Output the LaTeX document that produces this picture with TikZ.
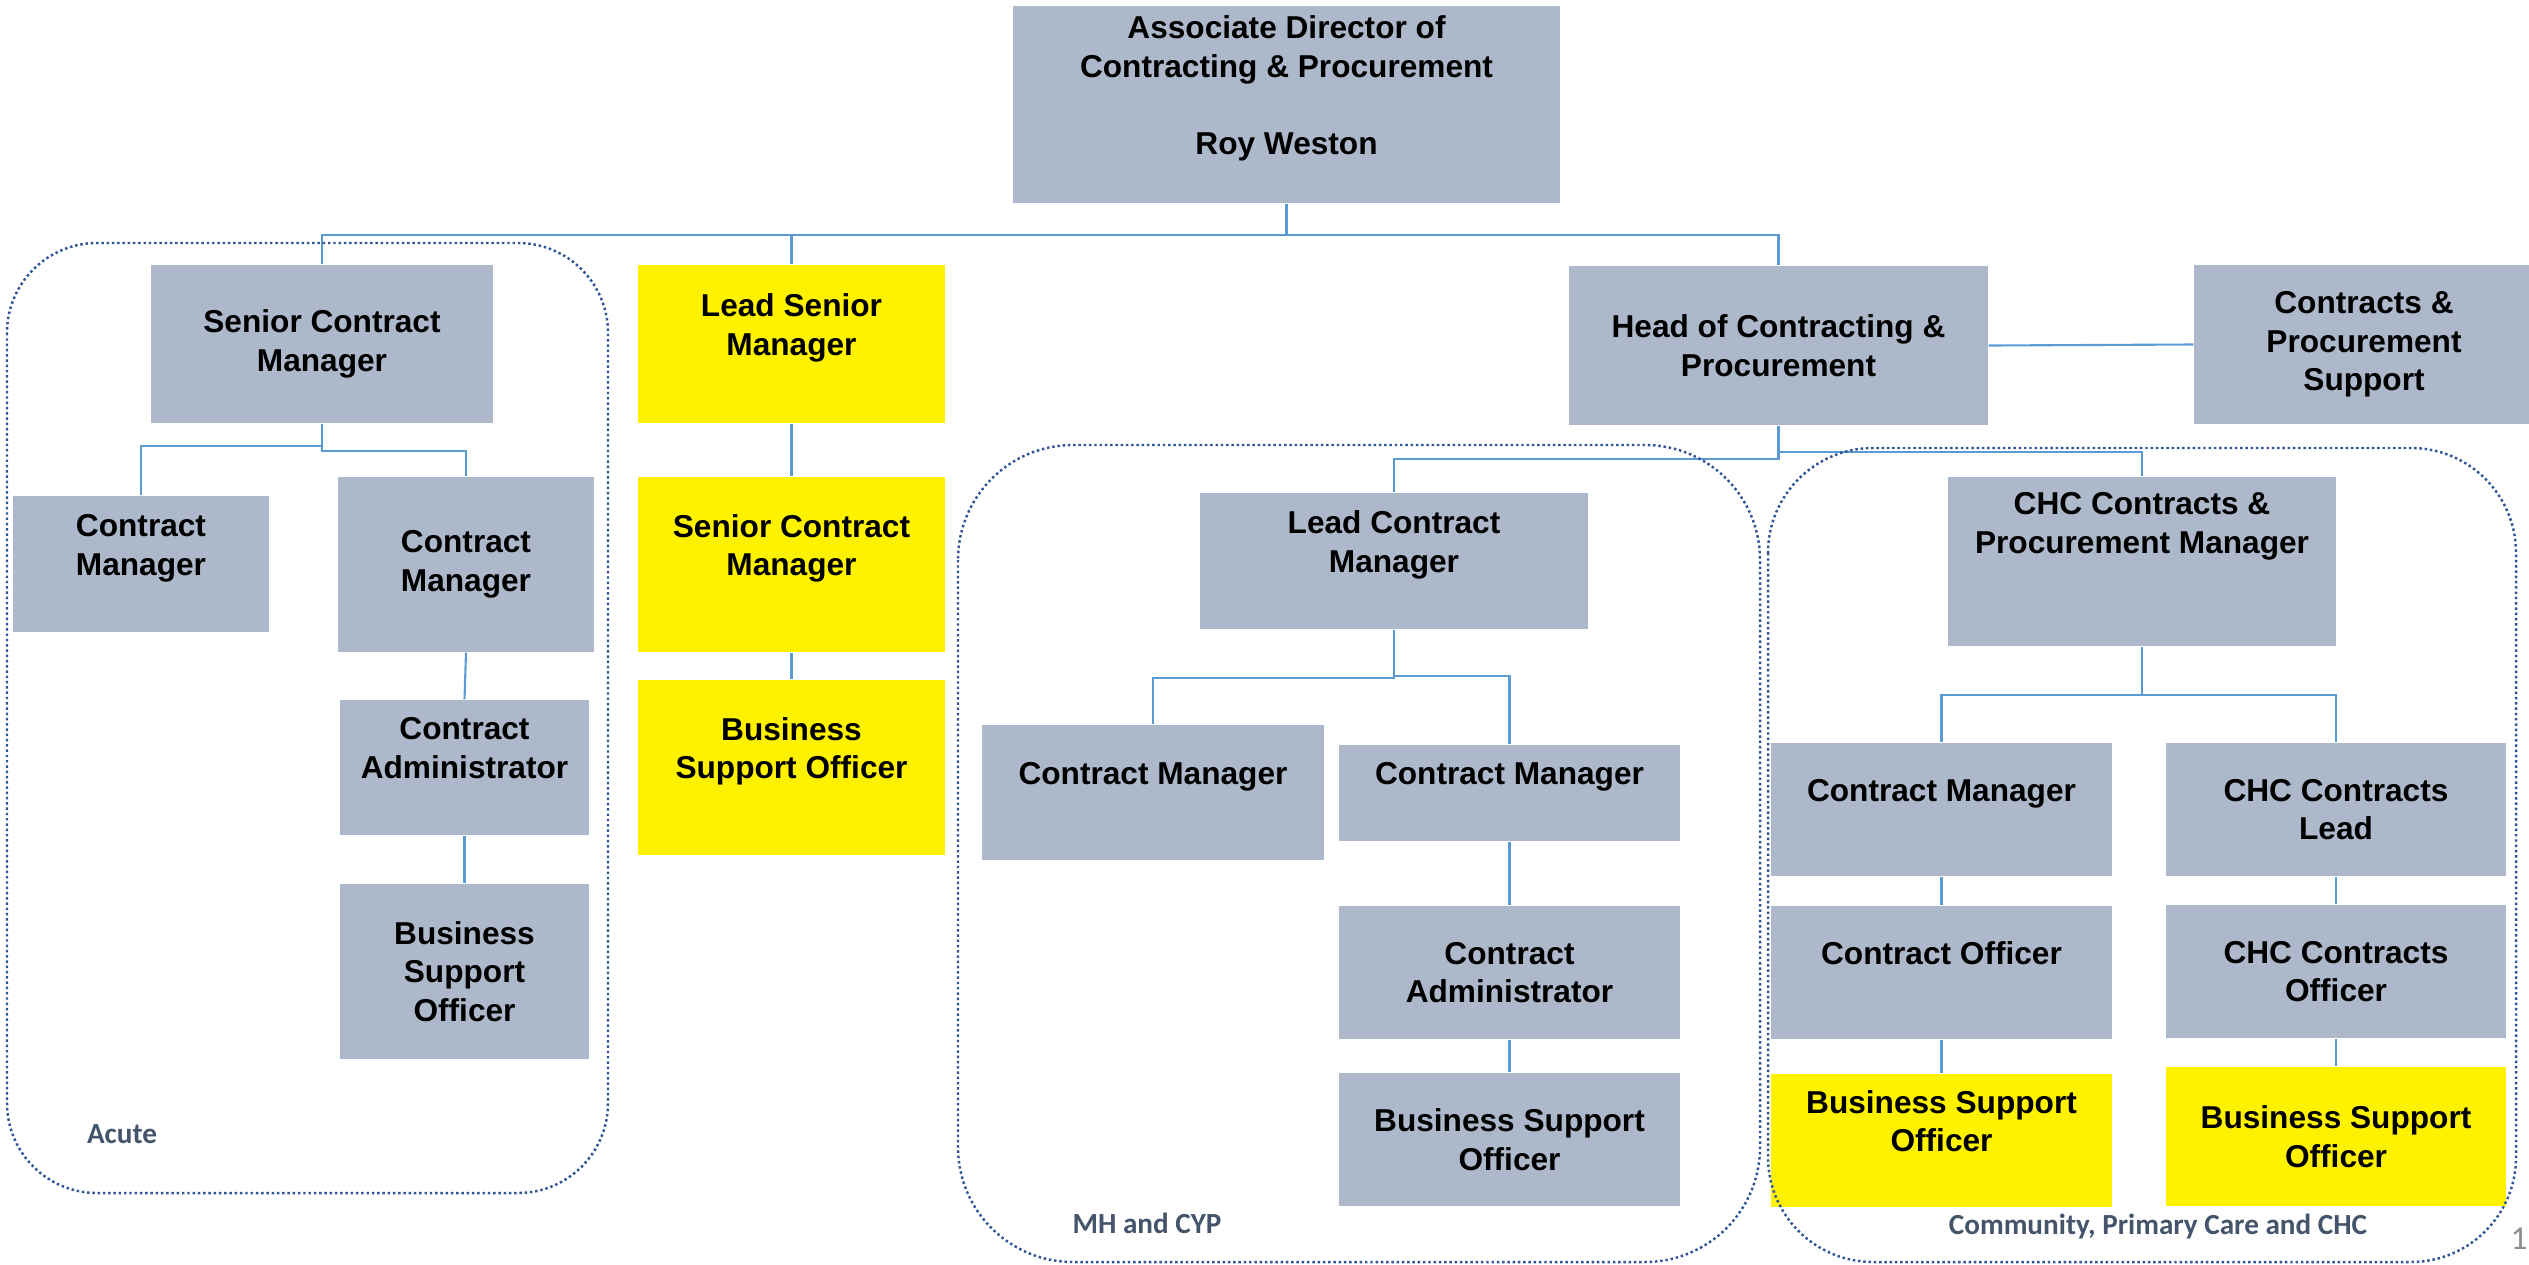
\documentclass[tikz,border=0pt]{standalone}
\usepackage{fontspec}
\setmainfont{Liberation Sans}
\newfontfamily\calibfont{Carlito}
\usepackage{tikz}
\usepackage{xcolor}

\definecolor{boxgrey}{HTML}{ADB9CA}
\definecolor{lineblue}{HTML}{5B9BD5}
\definecolor{dotblue}{HTML}{2F5597}
\definecolor{teamgrey}{HTML}{44546A}
\definecolor{pagegrey}{HTML}{8C8C8C}

\tikzset{
  role/.style={fill=boxgrey, align=center, inner sep=0pt, font=\fontsize{9}{11}\selectfont\bfseries},
  hilite/.style={role, fill=yellow},
  sz/.style 2 args={minimum width=#1cm, minimum height=#2cm},
  link/.style={draw=lineblue, line width=0.6pt},
  team/.style={draw=dotblue, line width=0.7pt, dash pattern=on 0.7pt off 0.8pt},
  teamname/.style={text=teamgrey, inner sep=0pt, font=\calibfont\fontsize{8.3}{10}\selectfont\bfseries},
}

\begin{document}
\begin{tikzpicture}
            \useasboundingbox (0,0) rectangle (25.29,-12.64);
            \clip (0,0) rectangle (25.29,-12.64);

            \node[role, sz={5.47}{1.97}] (AssocDirector) at (12.865,-1.045) {Associate Director of\\Contracting \& Procurement\\~\\Roy Weston\\~};
            \node[role, sz={3.42}{1.58}] (SeniorCM) at (3.22,-3.44) {Senior Contract\\Manager};
            \node[hilite, sz={3.07}{1.58}] (LeadSeniorMgr) at (7.915,-3.44) {Lead Senior\\Manager\\~};
            \node[role, sz={4.19}{1.59}] (HeadCP) at (17.785,-3.455) {Head of Contracting \&\\Procurement};
            \node[role, sz={3.40}{1.59}] (CPSupport) at (23.64,-3.445) {Contracts \&\\Procurement\\Support};

            % Acute
            \node[role, sz={2.56}{1.36}] (AcuteCM) at (1.41,-5.64) {Contract\\Manager\\~};
            \node[role, sz={2.56}{1.75}] (AcuteCMTwo) at (4.66,-5.645) {Contract\\Manager};
            \node[role, sz={2.49}{1.35}] (AcuteAdmin) at (4.645,-7.675) {Contract\\Administrator\\~};
            \node[role, sz={2.49}{1.75}] (AcuteBSO) at (4.645,-9.715) {Business\\Support\\Officer};

            \node[hilite, sz={3.07}{1.75}] (SeniorCMY) at (7.915,-5.645) {Senior Contract\\Manager\\~};
            \node[hilite, sz={3.07}{1.75}] (BSOY) at (7.915,-7.675) {Business\\Support Officer\\~};

            % MH and CYP
            \node[role, sz={3.88}{1.36}] (LeadCM) at (13.94,-5.61) {Lead Contract\\Manager\\~};
            \node[role, sz={3.42}{1.35}] (MhCM) at (11.53,-7.925) {Contract Manager\\~};
            \node[role, sz={3.41}{0.96}] (MhCMTwo) at (15.095,-7.93) {Contract Manager\\~};
            \node[role, sz={3.41}{1.33}] (MhAdmin) at (15.095,-9.725) {Contract\\Administrator};
            \node[role, sz={3.41}{1.33}] (MhBSO) at (15.095,-11.395) {Business Support\\Officer};

            % Community, Primary Care and CHC
            \node[role, sz={3.88}{1.69}] (CHCMgr) at (21.42,-5.615) {CHC Contracts \&\\Procurement Manager\\~\\~};
            \node[role, sz={3.41}{1.33}] (ComCM) at (19.415,-8.095) {Contract Manager\\~};
            \node[role, sz={3.40}{1.33}] (CHCLead) at (23.36,-8.095) {CHC Contracts\\Lead};
            \node[role, sz={3.41}{1.33}] (ComOfficer) at (19.415,-9.725) {Contract Officer\\~};
            \node[role, sz={3.40}{1.33}] (CHCOfficer) at (23.36,-9.715) {CHC Contracts\\Officer};
            \node[hilite, sz={3.41}{1.33}] (ComBSO) at (19.415,-11.405) {Business Support\\Officer\\~};
            \node[hilite, sz={3.40}{1.39}] (CHCBSO) at (23.36,-11.365) {Business Support\\Officer};

            \draw[link] (AssocDirector.south) -- ++(0,-0.31) -| (SeniorCM.north);
            \draw[link] (AssocDirector.south) -- ++(0,-0.31) -| (LeadSeniorMgr.north);
            \draw[link] (AssocDirector.south) -- ++(0,-0.31) -| (HeadCP.north);
            \draw[link] (HeadCP.east) -- (CPSupport.west);

            \draw[link] (SeniorCM.south) -- ++(0,-0.22) -| (AcuteCM.north);
            \draw[link] (SeniorCM.south) -- ++(0,-0.27) -| (AcuteCMTwo.north);
            \draw[link] (AcuteCMTwo.south) -- (AcuteAdmin.north);
            \draw[link] (AcuteAdmin.south) -- (AcuteBSO.north);
            \draw[link] (LeadSeniorMgr.south) -- (SeniorCMY.north);
            \draw[link] (SeniorCMY.south) -- (BSOY.north);

            \draw[link] (HeadCP.south) -- ++(0,-0.33) -| (LeadCM.north);
            \draw[link] (HeadCP.south) -- ++(0,-0.26) -| (CHCMgr.north);
            \draw[link] (LeadCM.south) -- ++(0,-0.48) -| (MhCM.north);
            \draw[link] (LeadCM.south) -- ++(0,-0.46) -| (MhCMTwo.north);
            \draw[link] (MhCMTwo.south) -- (MhAdmin.north);
            \draw[link] (MhAdmin.south) -- (MhBSO.north);

            \draw[link] (CHCMgr.south) -- ++(0,-0.48) -| (ComCM.north);
            \draw[link] (CHCMgr.south) -- ++(0,-0.48) -| (CHCLead.north);
            \draw[link] (ComCM.south) -- (ComOfficer.north);
            \draw[link] (ComOfficer.south) -- (ComBSO.north);
            \draw[link] (CHCLead.south) -- (CHCOfficer.north);
            \draw[link] (CHCOfficer.south) -- (CHCBSO.north);

            % dotted team outlines
            \draw[team, rounded corners=0.9cm] (0.07,-2.43) rectangle (6.08,-11.93);
            \draw[team, rounded corners=1.15cm] (9.58,-4.45) rectangle (17.60,-12.62);
            \draw[team, rounded corners=1.05cm] (17.68,-4.48) rectangle (25.16,-12.62);

            \node[teamname] (AcuteLabel) at (1.22,-11.34) {Acute};
            \node[teamname] (MhLabel) at (11.47,-12.23) {MH and CYP};
            \node[teamname] (ComLabel) at (21.58,-12.27) {Community, Primary Care and CHC};
            \node[anchor=west, inner sep=0pt, text=pagegrey, font=\calibfont\fontsize{9.5}{11}\selectfont] (PageNo) at (25.10,-12.385) {11};
        \end{tikzpicture}
\end{document}
